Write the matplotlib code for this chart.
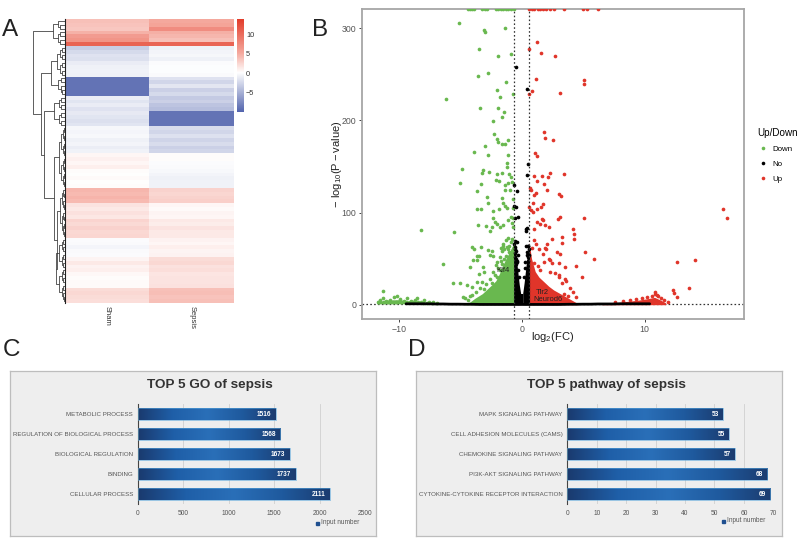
import numpy as np
import matplotlib
matplotlib.use("Agg")
import matplotlib.pyplot as plt
from matplotlib.colors import LinearSegmentedColormap, TwoSlopeNorm
from matplotlib.patches import Rectangle
from matplotlib.lines import Line2D

plt.rcParams['font.family'] = ['Liberation Sans', 'DejaVu Sans']
W, H = 800, 539

# ---------- Panel A data ----------
heat_columns = ["Sham", "Sepsis"]
sham = [3.6,3.4,3.2,4.5,6.0,6.6,10.5,
        -3.2,-2.4,-1.8,-2.0,-1.2,-0.9,-0.8,-0.9,
        -9,-9,-9,-9,-9,
        -1.1,-1.7,-1.2,-1.8,-1.4,-1.7,-2.0,-1.7,
        -0.5,-0.6,-0.4,-0.9,-0.7,-1.1,-0.8,
        0.5,0.8,0.5,0.9,
        0.2,0.1,0.3,0.1,0.2,
        4.2,4.0,4.3,4.0,
        1.6,1.3,1.7,1.4,
        2.4,2.1,2.6,2.2,2.3,
        -0.2,-0.3,-0.6,-0.3,-0.2,
        0.6,1.2,0.7,0.9,0.4,0.2,0.3,0.3,
        2.0,2.2,2.0,1.9]
sepsis = [5.0,5.4,7.2,4.6,4.2,3.6,10.5,
          -0.9,-0.7,-0.5,-0.9,-0.2,-0.1,-0.1,-0.3,
          -1.8,-2.6,-1.6,-3.0,-2.4,
          -3.4,-3.0,-3.8,-4.2,-9,-9,-9,-9,
          -2.2,-2.6,-1.9,-2.8,-2.2,-3.0,-2.6,
          0.2,0.2,-0.2,-0.3,
          -0.4,-0.7,-0.9,-0.8,-0.8,
          2.6,2.3,2.6,2.8,
          0.5,0.3,0.6,0.5,
          1.3,1.0,1.6,1.2,1.2,
          0.7,0.5,0.9,0.6,0.7,
          2.0,2.2,1.7,1.9,1.5,1.6,1.6,1.7,
          3.6,3.8,3.4,3.6]
cbar_ticks = [10, 5, 0, -5]

# dendrogram: (merge distance, children) or (merge distance, first row, last row)
dendro_tree = (32, [
    (12, 0, 7),
    (24, [
        (14, [(8, 7, 15), (7, 15, 20)]),
        (21, [
            (11, [(6, 20, 24), (6, 24, 28)]),
            (11, [
                (6, 28, 44),
                (8, [(5, 44, 57), (9, 57, 74)]),
            ]),
        ]),
    ]),
])

# ---------- Panel B data ----------
green_x = [-5.07,-1.33,-3.06,-2.98,-3.5,-1.95,-0.87,-2.7,-3.58,-1.27,-2.03,-1.8,-0.68,-6.15,-3.36,-1.95,-1.46,-1.57,-2.33,-2.22,
           -1.98,-1.92,-1.6,-1.35,-1.08,-2.98,-3.85,-2.76,-1.11,-4.88,-1.22,-1.22,-3.17,-3.22,-2.63,-5.0,-2.03,-1.63,-1.0,-0.9,
           -2.1,-1.84,-3.3,-1.35,-1.08,-0.81,-3.6,-1.35,-0.95,-2.8,-1.63,-0.68,-2.7,-3.66,-3.33,-2.3,-1.84,-1.35,-1.16,-1.49,
           -0.68,-8.18,-5.5,-3.52,-2.93,-2.36,-2.17,-2.03,-2.44,-2.57,-1.08,-0.9,-0.68,-0.81,-0.68,-1.76,-1.49,-6.37,-4.23,-4.07,
           -3.88,-3.33,-3.93,-3.66,-3.47,-3.66,-2.71,-2.44,-2.57,-2.3,-3.12,-3.47,-3.04,-5.56,-5.01,-3.66,-3.25,-4.47,-4.07,-11.3,
           -1.7,-1.5,-1.3,-1.1,-0.9,-0.75,-1.8,-1.6,-1.4,-1.2,-1.0,-2.0,-1.9,-1.7,-1.3,-1.05,-2.3,-2.1,-1.5,-1.15,
           -4.8,-4.6,-4.4,-4.2,-4.0,-3.7,-3.4,-3.1,-2.9,-2.6,-2.4,-2.2,-2.0,-1.8,-1.6,-1.4,
           -11.7,-11.5,-11.3,-11.0,-10.7,-10.4,-10.1,-9.9,-9.6,-9.3,-9.0,-8.7,-8.5,-8.2,-7.9,-7.5,-7.2,-6.9,
           -11.6,-11.2,-10.9,-10.5,-10.2,-9.8,-9.4,-9.1,-8.8,-8.4,-8.0,-7.7,-7.3]
green_y = [305.8,300,298,296,278,270,272,252,248.5,242,232.6,225,229,223,214,213.8,208.7,204,199,185,
           180,177,174,175,178.6,172.5,166,163,162,147,153.6,149,146,143.5,144.6,132.6,142,142.8,142,139,
           135.5,134.4,131,130,132,133.7,123.5,124.6,124.6,117.4,115.6,114.5,110.9,103.6,103.6,101.8,104,107,104.7,110,
           104.7,81.5,79.3,86.6,85.5,93.8,90,87.7,84.8,80.4,92,95.6,93.8,88.4,84.8,84.8,86.6,44.2,41.3,63,
           61,63,48.6,52.9,52.9,48.6,59.4,58.7,54,52.9,40.6,33,35.9,23.9,23.9,25,25,21.4,18.8,15.2,
           62,66,70,72,68,71,52,58,60,63,64,46,40,48,53,57,36,43,64,60,
           8,7,5,9,11,14,18,17,22,28,24,32,30,38,44,50,
           3,5,7,3.5,5,8,9,6,4,7,3.5,5,7,3,5,3,3,2,
           2.5,3,3,2.5,3,3,3,2.5,3,2.5,2,2,2]
green_top_x = [-4.4,-4.2,-4.0,-3.9,-3.2,-3.0,-2.8,-2.1,-1.9,-1.7,-1.5,-1.3,-1.1,-0.9,-0.6]
black_x = [-0.46,0.41,0.54,0.43,-0.6,-0.4,-0.6,-0.49,-0.27,-0.55,0.41,0.35,0.38,-0.54,-0.41,-0.54,0.35,0.54,-0.54,-0.27,-0.46,-0.35,0.45,0.52,
           -0.5,-0.3,-0.2,0.2,0.28,0.5,-0.6,-0.52,-0.45,-0.58,-0.36,0.58,0.5,0.42,0.3,0.56]
black_y = [257.6,234,152.5,141,129.7,123.5,107,106.5,95.6,93.8,83,80.4,82,69.6,68.5,63,64,63.8,55.8,54,50,46,57,52,
           44,38,30,30,40,48,66,60,58,52,48,60,64,54,46,54]
base_black_x = [-9.4,-8.8,-8.2,-7.6,-7.0,-6.4,-5.8,-5.2,-4.6,-4.1,-3.4,-2.6,-2.0,-1.4,1.2,2.0,3.0,3.9,4.4,5.0,5.6,6.2,6.8,7.4,8.0,8.6,9.2,9.8,10.4]
base_black_y = [1,1,1,1,0.8,0.8,0.6,0.6,0.5,0.5,0.3,0.3,0.3,0.3,0.3,0.3,0.3,0.5,0.5,0.6,0.6,0.8,0.8,0.8,1,1,1,1,1]
red_x = [1.27,0.6,1.6,2.71,1.14,5.07,5.07,0.84,0.6,3.09,1.79,1.92,2.55,1.11,1.25,2.3,2.17,3.44,1.0,1.27,1.63,1.8,0.65,0.73,2.06,3.0,3.2,1.0,1.2,0.95,
         1.76,1.54,0.62,1.27,0.95,0.73,5.1,3.09,2.93,16.37,16.7,1.63,1.27,1.76,1.5,1.9,1.03,2.25,4.15,4.28,4.23,3.3,2.44,3.25,2.03,1.9,2.85,3.12,5.18,5.88,
         12.63,14.09,3.0,3.52,4.42,2.3,4.88,3.0,3.52,13.63,12.28,12.38,12.6,10.87,
         0.8,1.0,1.2,1.4,1.7,2.0,2.2,2.5,1.0,1.3,1.5,1.8,2.3,2.7,3.0,3.3,3.6,3.9,4.2,4.4,3.4,3.8,
         7.6,8.2,8.8,9.3,9.8,10.2,10.6,11.0,11.3,11.6,11.9,11.1,10.8]
red_y = [285.5,277.5,273.5,270,245,244,239.9,232,228.6,229.3,187.7,181.5,179,164.9,160.9,142.8,139,141.7,140,134.8,140,131,126.4,124.6,124.6,120,118,119,121.7,110,
         109,105.8,106.5,104,101,103,94.6,95,93,104,94.2,93,90,92,87.7,86.6,82,84,81.9,76.4,71.7,73,71,66.7,65.6,61.2,56.9,54.7,57.6,49.3,
         46.7,48.9,45,40.6,42.4,48.6,30.4,32,27.5,18.5,16,12.3,8,13.8,
         62,70,66,60,55,60,50,45,45,42,38,46,36,34,30,24,26,18,14,8,12,10,
         3,4,5,6,7,8,10,11,7,5,3,9,12]
red_top_x = [0.6,0.8,1.0,1.3,1.5,1.7,2.0,2.3,2.6,3.4,5.0,5.3,6.2]
green_env_x = [-4.7,-4.2,-3.8,-3.2,-2.8,-2.4,-2.1,-1.8,-1.5,-1.2,-0.9,-0.6]
green_env_y = [1,3,7,12,17,22,26,34,44,52,60,68]
red_env_x = [0.6,0.8,1.1,1.4,1.8,2.2,2.6,3.0,3.4,3.8,4.2,4.6]
red_env_y = [68,50,36,30,25,20,16,13,10,7,4,1]
black_env_left_x = [-0.66,-0.5,-0.35,-0.2,-0.08]
black_env_left_y = [56,60,40,22,12]
black_env_right_x = [0.08,0.2,0.35,0.5,0.64]
black_env_right_y = [12,24,42,58,60]
green_tail_x = [-11.8,-11,-10,-9,-8,-7,-6]
green_tail_y = [3.5,5,5.5,4,3,2,1]
red_tail_x = [6.5,7.5,8.5,9.5,10.2,10.8,11.3,11.7]
red_tail_y = [0.6,2,3.5,5,6.5,8,5,2]
volcano_x_ticks = [-10, 0, 10]
volcano_y_ticks = [0, 100, 200, 300]
fc_cut = 0.6
gene_labels = ["Klf4", "Tlr2", "Neurod6"]
gene_x = [-1.54, 1.7, 2.14]
gene_y = [37, 13.4, 6]

# ---------- Panels C / D data ----------
go_terms = ["METABOLIC PROCESS","REGULATION OF BIOLOGICAL PROCESS","BIOLOGICAL REGULATION","BINDING","CELLULAR PROCESS"]
go_values = [1516, 1568, 1673, 1737, 2111]
go_ticks = [0, 500, 1000, 1500, 2000, 2500]
path_terms = ["MAPK SIGNALING PATHWAY","CELL ADHESION MOLECULES (CAMS)","CHEMOKINE SIGNALING PATHWAY","PI3K-AKT SIGNALING PATHWAY","CYTOKINE-CYTOKINE RECEPTOR INTERACTION"]
path_values = [53, 55, 57, 68, 69]
path_ticks = [0, 10, 20, 30, 40, 50, 60, 70]


def axpx(fig, x0, y0, x1, y1, **kw):
    return fig.add_axes([x0 / W, 1 - y1 / H, (x1 - x0) / W, (y1 - y0) / H], **kw)


fig = plt.figure(figsize=(W / 100, H / 100), dpi=100, facecolor='white')

# ---------- A ----------
cmap = LinearSegmentedColormap.from_list("hm", [(0, "#5365ae"), (0.5, "#ffffff"), (0.68, "#f5a99e"), (1, "#e23a28")])
norm = TwoSlopeNorm(vmin=-10, vcenter=0, vmax=13.9)
ax = axpx(fig, 65, 19, 234, 303)
mat = np.array([sham, sepsis]).T
ax.imshow(mat, cmap=cmap, norm=norm, aspect='auto', extent=[0, 2, mat.shape[0], 0], interpolation='nearest')
for s in ax.spines.values():
    s.set_visible(False)
ax.set_yticks([])
ax.set_xticks([0.5, 1.5], heat_columns, rotation=-90, fontsize=5.5, color='#333333')
ax.tick_params(axis='x', length=0, pad=2)

cax = axpx(fig, 237, 19, 244, 112)
grad = np.linspace(13.9, -10, 200)[:, None]
cax.imshow(grad, aspect='auto', cmap=cmap, norm=norm, extent=[0, 1, -10, 13.9])
cax.set_xticks([])
cax.yaxis.tick_right()
cax.set_yticks(cbar_ticks, ['10', '5', '0', '\u22125'], fontsize=5.3, color='#333333')
cax.tick_params(axis='y', length=0, pad=1.5)
for s in cax.spines.values():
    s.set_visible(False)

dax = axpx(fig, 33, 19, 65, 303)
dax.set_xlim(32.3, 0)
dax.set_ylim(mat.shape[0], 0)
dax.axis('off')


def dline(xs, ys):
    dax.plot(xs, ys, color='#333333', lw=0.55, solid_capstyle='butt', clip_on=False)


def fine(d, r0, r1):
    """Draw the small leaf merges of a row range; returns the node's row position."""
    if r1 - r0 <= 1:
        return (r0 + r1) / 2
    m = (r0 + r1) // 2
    child = d * 0.62
    a = fine(child, r0, m)
    b = fine(child, m, r1)
    ca = child if m - r0 > 1 else 0
    cb = child if r1 - m > 1 else 0
    dline([ca, d, d, cb], [a, a, b, b])
    return (a + b) / 2


def draw(node):
    if isinstance(node[1], list):
        d, kids = node
        a, b = [(k[0], draw(k)) for k in kids]
        dline([a[0], d, d, b[0]], [a[1], a[1], b[1], b[1]])
        return (a[1] + b[1]) / 2
    return fine(node[0], node[1], node[2])


draw(dendro_tree)
dax.axvline(0, color='#222222', lw=0.8, clip_on=False)

# ---------- B ----------
GREEN, RED = '#69b84f', '#e0352a'
ax = axpx(fig, 362, 9, 744, 319)
ax.set_xlim(-12.98, 18.07)
ax.set_ylim(-15.5, 321)
ms = 7
ax.fill_between(green_env_x, 0, green_env_y, color=GREEN, lw=0, zorder=2)
ax.fill_between(red_env_x, 0, red_env_y, color=RED, lw=0, zorder=2)
ax.fill_between(green_tail_x, 1, green_tail_y, color=GREEN, lw=0, zorder=2)
ax.fill_between(red_tail_x, 0, red_tail_y, color=RED, lw=0, zorder=2)
ax.scatter(green_x, green_y, s=ms, c=GREEN, lw=0, zorder=3)
ax.scatter(red_x, red_y, s=ms, c=RED, lw=0, zorder=3)
ax.scatter(green_top_x, [321] * len(green_top_x), s=ms, c=GREEN, lw=0, zorder=3)
ax.scatter(red_top_x, [321] * len(red_top_x), s=ms, c=RED, lw=0, zorder=3)
ax.fill_between(black_env_left_x, 0, black_env_left_y, color='black', lw=0, zorder=4)
ax.fill_between(black_env_right_x, 0, black_env_right_y, color='black', lw=0, zorder=4)
ax.fill_between([black_env_left_x[-1], black_env_right_x[0]], 0, [black_env_left_y[-1], black_env_right_y[0]], color='black', lw=0, zorder=4)
ax.scatter(black_x, black_y, s=ms, c='black', lw=0, zorder=4)
ax.plot(base_black_x, base_black_y, color='black', lw=2.0, zorder=4, solid_capstyle='round')
for v in (-fc_cut, fc_cut):
    ax.axvline(v, color='#333333', lw=0.9, ls=(0, (1.3, 1.8)), zorder=5)
ax.axhline(1.3, color='#333333', lw=0.9, ls=(0, (1.3, 1.8)), zorder=1)
for g, gx, gy, fs in zip(gene_labels, gene_x, gene_y, (5.6, 5.4, 5.4)):
    ax.text(gx, gy, g, fontsize=fs, color='#222222', ha='center', va='center', zorder=6)
ax.set_xticks(volcano_x_ticks, ['\u221210', '0', '10'])
ax.set_yticks(volcano_y_ticks)
ax.tick_params(labelsize=6.3, labelcolor='#555555', length=2.5, width=0.7, color='#444444', pad=1.5)
for s in ax.spines.values():
    s.set_color('#a6a6a6')
    s.set_linewidth(1.3)
ax.set_xlabel(r'$\mathregular{log_2(FC)}$', fontsize=8, labelpad=-2.5, color='#222222')
ax.set_ylabel(r'$\mathregular{-\ log_{10}(P-value)}$', fontsize=8, labelpad=-1.5, color='#222222')
handles = [Line2D([], [], ls='', marker='o', ms=2.6, mew=0, color=c) for c in (GREEN, 'black', RED)]
fig.legend(handles, ['Down', 'No', 'Up'], title='Up/Down', loc='upper left',
           bbox_to_anchor=(757.5 / W, 1 - 128 / H), frameon=False, fontsize=5.7, title_fontsize=7.1,
           labelspacing=0.95, handletextpad=0.55, handlelength=1.3, borderpad=0, borderaxespad=0, alignment='left')

# ---------- C, D ----------
bar_cmap = LinearSegmentedColormap.from_list("bar", ["#1a3a6e", "#1f5fa8", "#2a6fb8", "#1f5a9e", "#1b3c70"])


def panel(box, x0, x1, xmax, terms, values, ticks, title, title_x, legend_x, legend_y):
    bg = axpx(fig, *box)
    bg.set_xlim(0, 1)
    bg.set_ylim(0, 1)
    bg.set_xticks([])
    bg.set_yticks([])
    bg.set_facecolor('#eeeeee')
    for s in bg.spines.values():
        s.set_color('#bdbdbd')
        s.set_linewidth(0.9)
    fig.text(title_x / W, 1 - 385 / H, title, fontsize=9.7, fontweight='bold', color='#333333', ha='center', va='center')
    a = axpx(fig, x0, 404, x1, 504)
    a.patch.set_alpha(0)
    y = np.arange(len(terms))
    a.set_xticks(ticks)
    a.set_yticks(y, terms)
    a.tick_params(axis='y', length=0, labelsize=4.4, labelcolor='#555555', pad=3.5)
    a.tick_params(axis='x', length=0, labelsize=4.8, labelcolor='#555555', pad=4)
    a.grid(axis='x', color='#cfcfcf', lw=0.6, zorder=0)
    a.set_axisbelow(True)
    for k in ('top', 'right', 'bottom'):
        a.spines[k].set_visible(False)
    a.spines['left'].set_color('#444444')
    a.spines['left'].set_linewidth(0.8)
    a.barh(y, values, height=0.57, color='none', edgecolor='#58a6dc', lw=0.4, zorder=3)
    g = np.linspace(0, 1, 256)[None, :]
    for v, yy in zip(values, y):
        a.imshow(g, cmap=bar_cmap, aspect='auto', extent=[0, v, yy + 0.285, yy - 0.285], zorder=2.5)
        a.text(v - xmax * 0.02, yy, str(v), color='white', fontsize=4.7, fontweight='bold', ha='right', va='center', zorder=4)
    a.set_xlim(0, xmax)
    a.set_ylim(len(terms) - 0.5, -0.5)
    fig.patches.append(Rectangle((legend_x / W, 1 - (legend_y + 1.5) / H), 3 / W, 3 / H, transform=fig.transFigure, color='#1f4f8f'))
    fig.text((legend_x + 5) / W, 1 - legend_y / H, 'Input number', fontsize=4.7, color='#555555', va='center')


panel((10, 371, 376, 536), 138, 365, 2500, go_terms, go_values, go_ticks, 'TOP 5 GO of sepsis', 210, 316, 523)
panel((416, 371, 782, 536), 567.3, 773.3, 70, path_terms, path_values, path_ticks, 'TOP 5 pathway of sepsis', 606, 722, 521)

# ---------- panel letters ----------
for letter, x, y in [('A', 2, 30), ('B', 312, 30), ('C', 3, 350), ('D', 408, 350)]:
    fig.text(x / W, 1 - y / H, letter, fontsize=17.5, color='#222222', ha='left', va='center')

fig.savefig('out.png', dpi=100)
